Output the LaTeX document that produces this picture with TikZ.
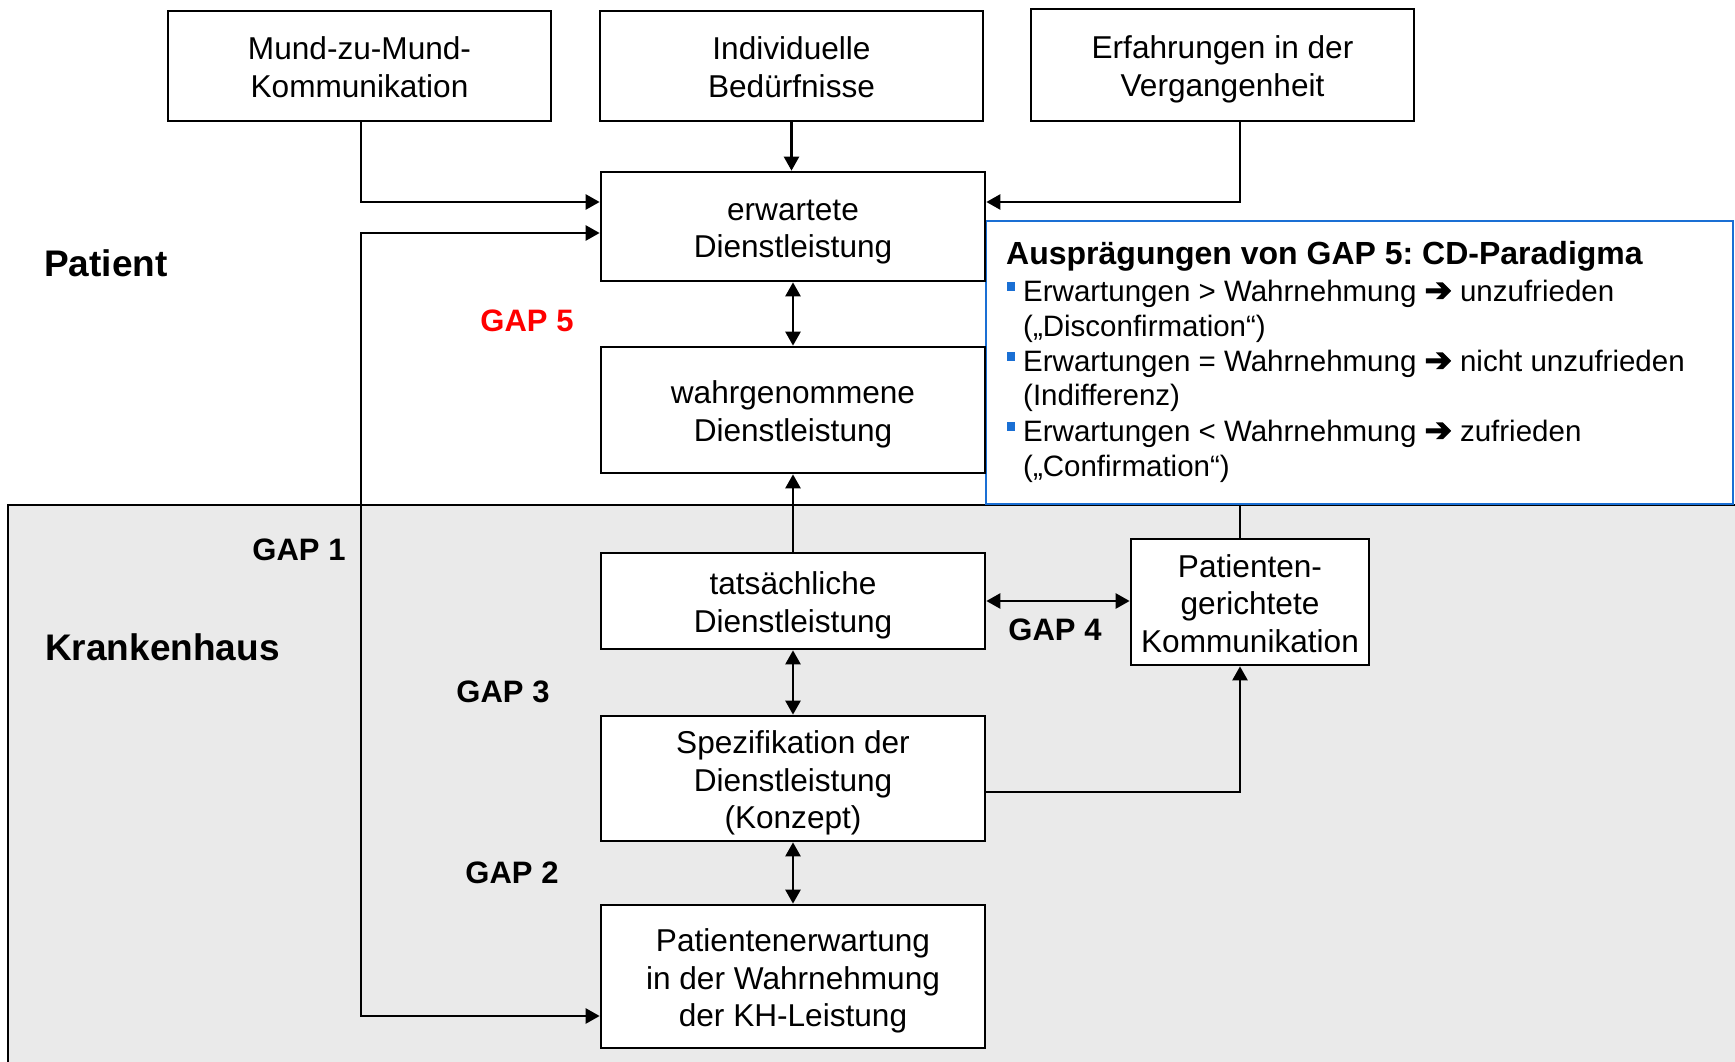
\documentclass[tikz,border=0pt]{standalone}
\usepackage{fontspec}
\usepackage{graphicx}
\setmainfont{Liberation Sans}
\newfontfamily\dejavuheavy[FakeBold=4]{DejaVu Sans Bold}
\usetikzlibrary{arrows.meta}
\frenchspacing
\definecolor{graybg}{HTML}{EAEAEA}
\definecolor{infoblue}{HTML}{1A6FD4}
\definecolor{gapred}{HTML}{FF0000}
\newcommand{\bluebul}{\textcolor{infoblue}{\rule[10pt]{8pt}{9pt}}\hspace{8pt}}
\newcommand{\bigarrow}{\scalebox{1.1}{\dejavuheavy ➔}}
\newcommand{\fs}{\rule{0pt}{32pt}}
\newcommand{\ls}{\rule[-6.6pt]{0pt}{6.6pt}}
\begin{document}
\begin{tikzpicture}[x=1pt,y=-1pt,
  box/.style={draw=black, line width=2.7pt, fill=white, align=center, inner sep=0pt,
    font=\fontsize{31.6}{37.5}\selectfont},
  conn/.style={line width=2.5pt, -{Triangle[length=14pt,width=15pt]}},
  bconn/.style={line width=2.5pt, {Triangle[length=14pt,width=15pt]}-{Triangle[length=14pt,width=15pt]}},
  plainline/.style={line width=2.5pt},
  gaplabel/.style={font=\fontsize{31}{37}\selectfont\bfseries, inner sep=0pt},
  biglabel/.style={font=\fontsize{37}{44}\selectfont\bfseries, inner sep=0pt, anchor=west},
  infotitle/.style={font=\fontsize{32}{38}\selectfont\bfseries, inner sep=0pt, anchor=base west},
  infoline/.style={font=\fontsize{29.5}{35}\selectfont, inner sep=0pt, anchor=base west},
]
\useasboundingbox (0,0) rectangle (1735,1062);
\fill[white] (0,0) rectangle (1735,1062);
\draw[line width=2.5pt, fill=graybg] (8,505) rectangle (1760,1080);

% info box
\node[draw=infoblue, line width=2.5pt, fill=white, minimum width=747pt, minimum height=283pt, inner sep=0pt] (info) at (1359.5,362.5) {};
\node[infotitle] (t0) at (1006,264) {Ausprägungen von GAP 5: CD-Paradigma};
\node[infoline] (t1) at (1007,301) {\bluebul Erwartungen > Wahrnehmung \bigarrow{} unzufrieden};
\node[infoline] (t2) at (1023,336) {(„Disconfirmation“)};
\node[infoline] (t3) at (1007,371) {\bluebul Erwartungen = Wahrnehmung \bigarrow{} nicht unzufrieden};
\node[infoline] (t4) at (1023,405) {(Indifferenz)};
\node[infoline] (t5) at (1007,441) {\bluebul Erwartungen < Wahrnehmung \bigarrow{} zufrieden};
\node[infoline] (t6) at (1023,476) {(„Confirmation“)};

% boxes
\node[box, minimum width=383pt, minimum height=110pt] (mund) at (359.5,66) {\fs Mund-zu-Mund-\\Kommunikation\ls};
\node[box, minimum width=383pt, minimum height=110pt] (ind) at (791.5,66) {\fs Individuelle\\Bedürfnisse\ls};
\node[box, minimum width=383pt, minimum height=112pt] (erf) at (1222.5,65) {\fs Erfahrungen in der\\Vergangenheit\ls};
\node[box, minimum width=384pt, minimum height=109pt] (erw) at (793,226.5) {\fs erwartete\\Dienstleistung\ls};
\node[box, minimum width=384pt, minimum height=126pt] (wahr) at (793,410) {\fs wahrgenommene\\Dienstleistung\ls};
\node[box, minimum width=384pt, minimum height=96pt] (tats) at (793,601) {\fs tatsächliche\\Dienstleistung\ls};
\node[box, minimum width=384pt, minimum height=125pt] (spez) at (793,778.5) {\fs Spezifikation der\\Dienstleistung\\(Konzept)\ls};
\node[box, minimum width=384pt, minimum height=143pt] (pat) at (793,976.5) {\fs Patientenerwartung\\in der Wahrnehmung\\der KH-Leistung\ls};
\node[box, minimum width=238pt, minimum height=126pt] (komm) at (1250,602) {\fs Patienten-\\gerichtete\\Kommunikation\ls};

% labels
\node[biglabel] (patient) at (44,263) {Patient};
\node[biglabel] (kh) at (45,647) {Krankenhaus};
\node[gaplabel] (g1) at (299,550) {GAP 1};
\node[gaplabel, text=gapred] (g5) at (527,321) {GAP 5};
\node[gaplabel] (g3) at (503,692) {GAP 3};
\node[gaplabel] (g2) at (512,873) {GAP 2};
\node[gaplabel] (g4) at (1055,630) {GAP 4};

% helper coordinates
\coordinate (lx) at (361,0);
\coordinate (kx) at (1240,0);
\coordinate (ya) at (0,202);
\coordinate (yb) at (0,233);
\coordinate (yc) at (0,1016);
\coordinate (yd) at (0,792);
\coordinate (ye) at (0,601);

% connectors
\draw[conn] (lx |- mund.south) |- (erw.west |- ya);
\draw[conn] (ind.south) -- (ind.south |- erw.north);
\draw[conn] (kx |- erf.south) |- (erw.east |- ya);
\draw[bconn] (erw.west |- yb) -| (lx |- yc) -- (pat.west |- yc);
\draw[bconn] (erw.south) -- (wahr.north);
\draw[conn] (tats.north) -- (wahr.south);
\draw[bconn] (tats.east |- ye) -- (komm.west |- ye);
\draw[bconn] (tats.south) -- (spez.north);
\draw[bconn] (spez.south) -- (pat.north);
\draw[conn] (spez.east |- yd) -| (kx |- komm.south);
\draw[plainline] (kx |- info.south) -- (kx |- komm.north);
\end{tikzpicture}
\end{document}
